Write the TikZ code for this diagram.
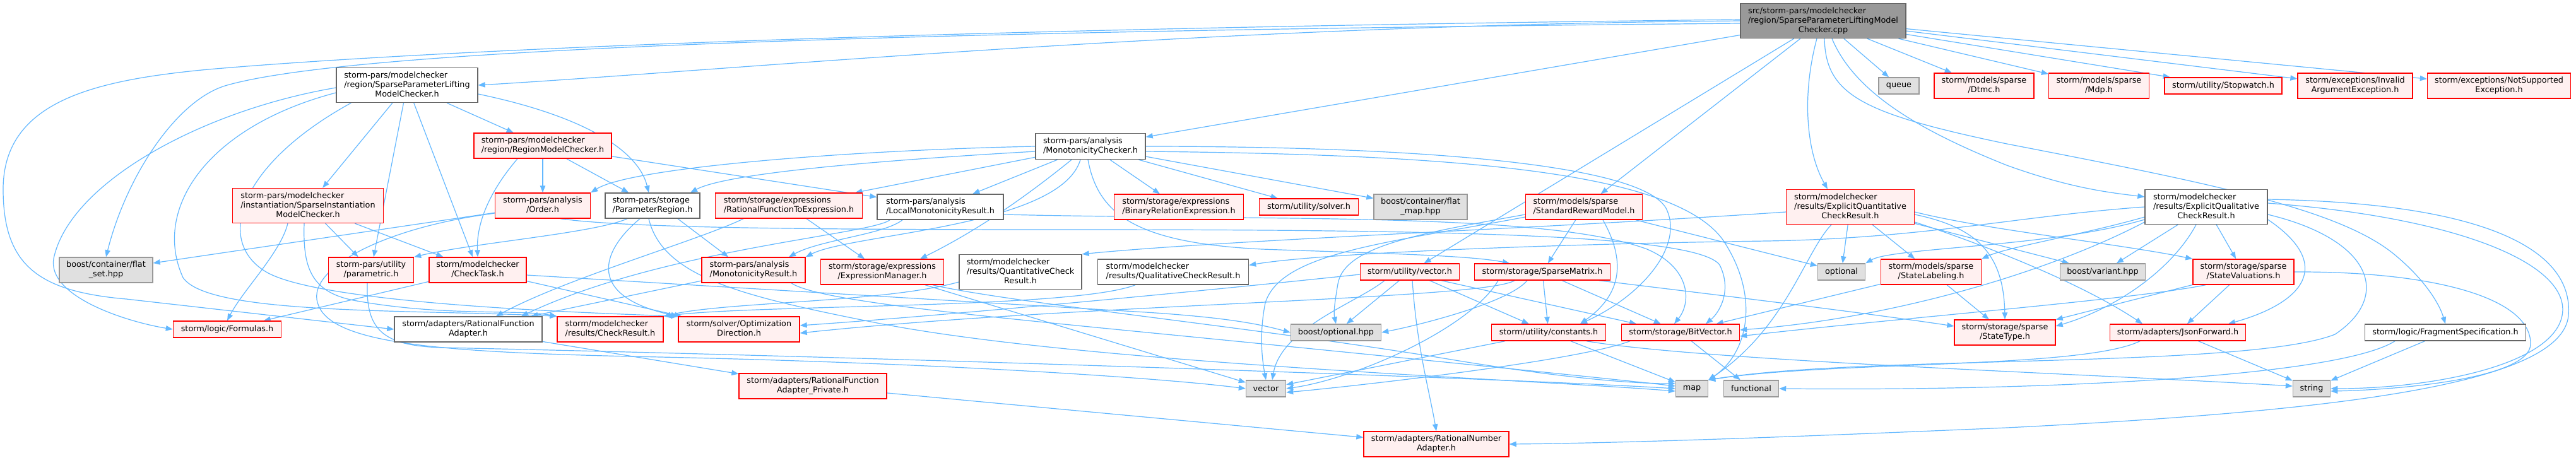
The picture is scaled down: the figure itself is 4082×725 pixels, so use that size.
\documentclass[tikz,border=0pt]{standalone}
\usepackage{fontspec}
\setmainfont{DejaVu Sans}
\usetikzlibrary{arrows.meta}
\definecolor{edgeblue}{HTML}{63B8FF}
\definecolor{nodered}{HTML}{FF0000}
\definecolor{fillred}{HTML}{FFF0F0}
\definecolor{fillgray}{HTML}{E0E0E0}
\definecolor{bordergray}{HTML}{999999}
\definecolor{darkborder}{HTML}{666666}
\definecolor{mainfill}{HTML}{999999}
\newcommand\nlab[1]{\begin{tabular}{@{}l@{}}#1\end{tabular}}
\newcommand\nlast[1]{\multicolumn{1}{@{}c@{}}{#1}}
\pgfdeclarelayer{bg}
\pgfdeclarelayer{edges}
\pgfsetlayers{bg,edges,main}
\tikzset{
  nb/.style={draw, rectangle, inner sep=0pt, line width=0.7pt, font=\fontsize{6.4}{7.5}\selectfont},
  rb/.style={nb, draw=nodered, fill=fillred},
  gb/.style={nb, draw=bordergray, fill=fillgray},
  wb/.style={nb, draw=darkborder, fill=white},
  mb/.style={nb, draw=darkborder, fill=mainfill},
  sz/.style 2 args={minimum width=#1*0.5pt, minimum height=#2*0.5pt},
  edge/.style={draw=edgeblue, line width=0.6pt, -{Triangle[length=5.5pt,width=4.2pt]}},
}
\begin{document}
\begin{tikzpicture}[x=0.5pt,y=-0.5pt]
\begin{pgfonlayer}{bg}
\fill[white] (0,0) rectangle (4082,725);
\end{pgfonlayer}
\useasboundingbox (0,0) rectangle (4082,725);

% row 0
\node[mb, sz={262}{55}] (cpp) at (2889,33) {\nlab{src/storm-pars/modelchecker\\/region/SparseParameterLiftingModel\\\nlast{Checker.cpp}}};
% row 1
\node[wb, sz={224}{55}] (splmc) at (645,135) {\nlab{storm-pars/modelchecker\\/region/SparseParameterLifting\\\nlast{ModelChecker.h}}};
\node[gb, sz={64}{26}] (queue) at (3009,136) {queue};
\node[rb, sz={158}{40}] (dtmc) at (3144,136) {\nlab{storm/models/sparse\\\nlast{/Dtmc.h}}};
\node[rb, sz={159}{40}] (mdp) at (3326,136) {\nlab{storm/models/sparse\\\nlast{/Mdp.h}}};
\node[rb, sz={186}{26}] (stopwatch) at (3523,136) {storm/utility/Stopwatch.h};
\node[rb, sz={182}{40}] (invarg) at (3732,136) {\nlab{storm/exceptions/Invalid\\\nlast{ArgumentException.h}}};
\node[rb, sz={227}{40}] (notsup) at (3960,136) {\nlab{storm/exceptions/NotSupported\\\nlast{Exception.h}}};
% row 2
\node[wb, sz={174}{41}] (monochk) at (1728,232) {\nlab{storm-pars/analysis\\\nlast{/MonotonicityChecker.h}}};
\node[rb, sz={218}{40}] (rmc) at (860,231) {\nlab{storm-pars/modelchecker\\\nlast{/region/RegionModelChecker.h}}};
% row 3
\node[rb, sz={239}{55}] (sinst) at (488,326) {\nlab{storm-pars/modelchecker\\/instantiation/SparseInstantiation\\\nlast{ModelChecker.h}}};
\node[rb, sz={151}{40}] (order) at (860,326) {\nlab{storm-pars/analysis\\\nlast{/Order.h}}};
\node[wb, sz={150}{40}] (preg) at (1034,326) {\nlab{storm-pars/storage\\\nlast{/ParameterRegion.h}}};
\node[rb, sz={233}{40}] (rfte) at (1250,326) {\nlab{storm/storage/expressions\\\nlast{/RationalFunctionToExpression.h}}};
\node[wb, sz={200}{40}] (lmr) at (1490,328) {\nlab{storm-pars/analysis\\\nlast{/LocalMonotonicityResult.h}}};
\node[rb, sz={205}{40}] (bre) at (1868,328) {\nlab{storm/storage/expressions\\\nlast{/BinaryRelationExpression.h}}};
\node[rb, sz={157}{26}] (solver) at (2074,328) {storm/utility/solver.h};
\node[gb, sz={148}{40}] (flatmap) at (2251,328) {\nlab{boost/container/flat\\\nlast{\_map.hpp}}};
\node[rb, sz={185}{40}] (srm) at (2510,328) {\nlab{storm/models/sparse\\\nlast{/StandardRewardModel.h}}};
\node[rb, sz={203}{55}] (eqt) at (2932,328) {\nlab{storm/modelchecker\\/results/ExplicitQuantitative\\\nlast{CheckResult.h}}};
\node[wb, sz={194}{55}] (eql) at (3496,328) {\nlab{storm/modelchecker\\/results/ExplicitQualitative\\\nlast{CheckResult.h}}};
% row 4
\node[gb, sz={148}{40}] (flatset) at (168,428) {\nlab{boost/container/flat\\\nlast{\_set.hpp}}};
\node[rb, sz={135}{40}] (param) at (588,428) {\nlab{storm-pars/utility\\\nlast{/parametric.h}}};
\node[rb, sz={154}{40}] (ctask) at (757,428) {\nlab{storm/modelchecker\\\nlast{/CheckTask.h}}};
\node[rb, sz={164}{40}] (monres) at (1194,428) {\nlab{storm-pars/analysis\\\nlast{/MonotonicityResult.h}}};
\node[rb, sz={195}{40}] (exprman) at (1398,431) {\nlab{storm/storage/expressions\\\nlast{/ExpressionManager.h}}};
\node[wb, sz={194}{55}] (qcr) at (1617,431) {\nlab{storm/modelchecker\\/results/QuantitativeCheck\\\nlast{Result.h}}};
\node[wb, sz={239}{40}] (qlcr) at (1859,431) {\nlab{storm/modelchecker\\\nlast{/results/QualitativeCheckResult.h}}};
\node[rb, sz={157}{26}] (uvec) at (2234,431) {storm/utility/vector.h};
\node[rb, sz={215}{26}] (smat) at (2444,431) {storm/storage/SparseMatrix.h};
\node[gb, sz={75}{26}] (optional) at (2918,431) {optional};
\node[rb, sz={159}{40}] (slab) at (3060,431) {\nlab{storm/models/sparse\\\nlast{/StateLabeling.h}}};
\node[gb, sz={135}{26}] (variant) at (3332,431) {boost/variant.hpp};
\node[rb, sz={160}{40}] (sval) at (3555,431) {\nlab{storm/storage/sparse\\\nlast{/StateValuations.h}}};
% row 5
\node[rb, sz={171}{26}] (formulas) at (360,522) {storm/logic/Formulas.h};
\node[wb, sz={234}{40}] (rfa) at (742,522) {\nlab{storm/adapters/RationalFunction\\\nlast{Adapter.h}}};
\node[rb, sz={168}{40}] (cres) at (967,522) {\nlab{storm/modelchecker\\\nlast{/results/CheckResult.h}}};
\node[rb, sz={192}{40}] (optdir) at (1171,522) {\nlab{storm/solver/Optimization\\\nlast{Direction.h}}};
\node[gb, sz={143}{26}] (boptional) at (2117,527) {boost/optional.hpp};
\node[rb, sz={181}{26}] (consts) at (2454,527) {storm/utility/constants.h};
\node[rb, sz={187}{26}] (bitvec) at (2663,527) {storm/storage/BitVector.h};
\node[rb, sz={160}{40}] (stype) at (3177,527) {\nlab{storm/storage/sparse\\\nlast{/StateType.h}}};
\node[rb, sz={215}{26}] (json) at (3451,527) {storm/adapters/JsonForward.h};
\node[wb, sz={255}{26}] (frag) at (3875,527) {storm/logic/FragmentSpecification.h};
% row 6
\node[rb, sz={234}{40}] (rfap) at (1288,612) {\nlab{storm/adapters/RationalFunction\\\nlast{Adapter\_Private.h}}};
\node[gb, sz={63}{26}] (vector) at (2006,616) {vector};
\node[gb, sz={51}{26}] (map) at (2681,616) {map};
\node[gb, sz={87}{26}] (functional) at (2775,616) {functional};
\node[gb, sz={59}{26}] (string) at (3663,616) {string};
% row 7
\node[rb, sz={230}{40}] (rna) at (2276,704) {\nlab{storm/adapters/RationalNumber\\\nlast{Adapter.h}}};

\begin{pgfonlayer}{edges}
% cpp
\draw[edge] (cpp.west) .. controls (1900,40) and (1150,112) .. (splmc.east);
\draw[edge] ([yshift=-2pt]cpp.west) .. controls (1100,52) and (520,90) .. (360,135) .. controls (280,157) and (200,280) .. (flatset.north);
\draw[edge] ([yshift=1pt]cpp.west) .. controls (1500,45) and (700,78) .. (330,110) .. controls (150,127) and (5,160) .. (5,300) .. controls (5,420) and (60,462) .. (200,474) -- (rfa.west);
\draw[edge] (cpp) -- (monochk);
\draw[edge] (cpp) -- (queue);
\draw[edge] (cpp) -- (dtmc);
\draw[edge] (cpp) -- (mdp);
\draw[edge] (cpp) -- (stopwatch);
\draw[edge] (cpp) -- (invarg);
\draw[edge] (cpp) -- (notsup);
\draw[edge] (cpp) -- (srm);
\draw[edge] (cpp) -- (uvec);
\draw[edge] ([xshift=-5pt]cpp.south) .. controls (2855,150) and (2862,240) .. ([xshift=-18pt]eqt.north);
\draw[edge] ([xshift=1pt]cpp.south) .. controls (2893,150) and (2950,180) .. (3180,228) .. controls (3500,290) and (3700,330) .. (3790,400) .. controls (3840,440) and (3865,480) .. (frag.north);
\draw[edge] ([xshift=7pt]cpp.south) .. controls (2940,150) and (3050,210) .. (3180,262) .. controls (3280,298) and (3340,305) .. ([yshift=8pt]eql.west);
% splmc
\draw[edge] (splmc) -- (sinst);
\draw[edge] (splmc) -- (rmc);
\draw[edge] ([yshift=-7pt]splmc.east) .. controls (930,185) and (1012,240) .. ([xshift=-3pt]preg.north);
\draw[edge] (splmc) -- (param);
\draw[edge] (splmc) -- (ctask);
\draw[edge] ([yshift=-2pt]splmc.west) .. controls (320,175) and (110,290) .. (85,410) .. controls (75,470) and (200,510) .. (formulas.west);
\draw[edge] ([yshift=-6pt]splmc.west) .. controls (330,200) and (240,330) .. (290,440) .. controls (330,500) and (650,490) .. (cres.north west);
\draw[edge] ([xshift=12pt]splmc.south west) .. controls (380,260) and (340,380) .. (420,430) .. controls (500,480) and (900,495) .. (optdir.north west);
% rmc
\draw[edge] (rmc) -- (order);
\draw[edge] (rmc) -- (preg);
\draw[edge] ([xshift=-20pt]rmc.south) .. controls (770,310) and (755,360) .. (ctask.north);
\draw[edge] (rmc) -- (lmr);
% monotonicity checker
\draw[edge] (monochk.west) .. controls (1350,238) and (1000,265) .. (order.north east);
\draw[edge] ([yshift=-4pt]monochk.west) .. controls (1380,255) and (1150,275) .. ([xshift=30pt]preg.north);
\draw[edge] (monochk) -- (rfte);
\draw[edge] (monochk) -- (lmr);
\draw[edge] (monochk) -- (bre);
\draw[edge] (monochk) -- (solver);
\draw[edge] (monochk) -- (flatmap);
\draw[edge] ([xshift=-15pt]monochk.south) .. controls (1640,300) and (1560,360) .. ([xshift=30pt]exprman.north);
\draw[edge] ([xshift=-8pt]monochk.south) .. controls (1680,360) and (1350,370) .. (monres.north east);
\draw[edge] ([xshift=-2pt]monochk.south) .. controls (1740,340) and (1800,385) .. (2000,395) .. controls (2200,402) and (2330,405) .. ([xshift=-26pt]smat.north);
\draw[edge] (monochk.east) .. controls (2250,232) and (2600,260) .. (2640,330) .. controls (2670,390) and (2600,470) .. ([xshift=25pt]consts.north);
\draw[edge] ([yshift=-4pt]monochk.east) .. controls (2300,245) and (2650,270) .. (2730,380) .. controls (2790,470) and (2770,560) .. (map.north east);
% sparse instantiation
\draw[edge] ([xshift=-16pt]sinst.south) .. controls (445,400) and (385,460) .. (formulas.north);
\draw[edge] (sinst) -- (param);
\draw[edge] (sinst) -- (ctask);
\draw[edge] ([xshift=-3pt]sinst.south) .. controls (480,420) and (490,462) .. (560,476) .. controls (700,502) and (820,490) .. (cres.north west);
% parameter region
\draw[edge] ([xshift=-20pt]preg.south) .. controls (940,370) and (750,385) .. (param.north east);
\draw[edge] ([xshift=-10pt]preg.south) .. controls (950,400) and (930,470) .. (optdir.north west);
\draw[edge] ([xshift=-3pt]preg.south) .. controls (1050,440) and (1180,470) .. (1380,510) .. controls (1700,575) and (2400,600) .. ([yshift=-2pt]map.west);
\draw[edge] ([xshift=20pt]preg.south) -- ([xshift=-20pt]monres.north);
% order
\draw[edge] (order) -- (flatset);
\draw[edge] ([yshift=-6pt]order.west) .. controls (600,362) and (480,430) .. (505,485) .. controls (530,545) and (700,558) .. (1000,565) .. controls (1500,575) and (1850,600) .. (vector.west);
\draw[edge] ([xshift=14pt]order.south) .. controls (1000,362) and (1300,364) .. (1700,364) .. controls (2300,364) and (2690,372) .. (2725,420) .. controls (2745,460) and (2725,495) .. ([xshift=20pt]bitvec.north);
% monotonicity result
\draw[edge] (monres) -- (rfa);
\draw[edge] ([xshift=30pt]monres.south) .. controls (1300,480) and (1600,505) .. (2000,545) .. controls (2300,575) and (2550,600) .. ([yshift=2pt]map.west);
% local monotonicity result
\draw[edge] ([xshift=-30pt]lmr.south) .. controls (1400,372) and (1300,380) .. ([xshift=28pt]monres.north);
\draw[edge] ([yshift=-6pt]lmr.east) .. controls (2000,350) and (2450,335) .. (2610,395) .. controls (2680,425) and (2680,480) .. ([xshift=-5pt]bitvec.north);
\draw[edge] ([xshift=-40pt]lmr.south) .. controls (1380,372) and (1050,395) .. ([xshift=42pt]rfa.north);
% rational function to expression
\draw[edge] ([xshift=-36pt]rfte.south) .. controls (1110,380) and (900,440) .. ([xshift=22pt]rfa.north);
\draw[edge] ([xshift=14pt]rfte.south) -- ([xshift=-14pt]exprman.north);
% expression manager
\draw[edge] (exprman) -- (vector);
\draw[edge] ([xshift=40pt]exprman.south) .. controls (1600,480) and (2000,520) .. (2300,570) .. controls (2500,603) and (2600,608) .. ([yshift=4pt]map.west);
% check results
\draw[edge] ([yshift=-8pt]qcr.west) .. controls (1400,480) and (1150,478) .. (cres.north east);
\draw[edge] ([xshift=-30pt]qlcr.south) .. controls (1700,490) and (1200,482) .. (cres.north east);
% utility vector
\draw[edge] ([yshift=-2pt]uvec.west) .. controls (1900,462) and (1500,500) .. ([yshift=3pt]optdir.east);
\draw[edge] (uvec) -- (boptional);
\draw[edge] ([xshift=2pt]uvec.south) .. controls (2245,550) and (2265,620) .. (rna.north);
\draw[edge] ([xshift=-20pt]uvec.south) .. controls (2150,480) and (2030,520) .. ([xshift=5pt]vector.north);
\draw[edge] (uvec) -- (consts);
\draw[edge] ([xshift=25pt]uvec.south) -- ([xshift=-35pt]bitvec.north);
% sparse matrix
\draw[edge] ([xshift=-22pt]smat.south) .. controls (2350,475) and (1700,482) .. ([yshift=-3pt]optdir.east);
\draw[edge] ([xshift=-12pt]smat.south) .. controls (2390,480) and (2250,515) .. (boptional.east);
\draw[edge] (smat) -- (consts);
\draw[edge] (smat) -- (bitvec);
\draw[edge] ([xshift=45pt]smat.south) .. controls (2700,465) and (2950,495) .. ([yshift=5pt]stype.west);
\draw[edge] ([xshift=-35pt]smat.south) .. controls (2330,520) and (2150,600) .. (vector.east);
% standard reward model
\draw[edge] (srm) -- (smat);
\draw[edge] ([xshift=15pt]srm.south) .. controls (2580,420) and (2565,470) .. ([xshift=25pt]consts.north);
\draw[edge] (srm) -- (optional);
\draw[edge] ([yshift=-6pt]srm.west) .. controls (2250,370) and (2130,390) .. (2120,450) .. controls (2115,480) and (2113,495) .. (boptional.north);
\draw[edge] ([yshift=-8pt]srm.west) .. controls (2200,385) and (2030,400) .. (2005,480) .. controls (1995,530) and (2000,570) .. (vector.north);
% explicit quantitative
\draw[edge] ([yshift=-4pt]eqt.west) .. controls (2450,362) and (1950,380) .. (qcr.north east);
\draw[edge] ([xshift=-15pt]eqt.south) .. controls (2860,400) and (2830,520) .. (map.north east);
\draw[edge] (eqt) -- (optional);
\draw[edge] (eqt) -- (slab);
\draw[edge] ([yshift=-6pt]eqt.east) .. controls (3130,360) and (3175,400) .. (stype.north);
\draw[edge] ([yshift=-4pt]eqt.east) .. controls (3150,365) and (3350,385) .. (sval.north west);
\draw[edge] (eqt) -- (variant);
\draw[edge] ([yshift=-12pt]eqt.east) .. controls (3150,390) and (3300,450) .. ([xshift=-28pt]json.north);
% explicit qualitative
\draw[edge] (eql.west) .. controls (3200,342) and (3050,378) .. (2800,382) .. controls (2500,386) and (2100,400) .. ([yshift=-5pt]qlcr.north east);
\draw[edge] (eql) -- (variant);
\draw[edge] (eql) -- (sval);
\draw[edge] ([xshift=-8pt]eql.south) .. controls (3440,430) and (3350,490) .. ([yshift=5pt]stype.east);
\draw[edge] ([yshift=-10pt]eql.east) .. controls (3700,420) and (3650,480) .. ([xshift=40pt]json.north);
\draw[edge] ([yshift=3pt]eql.east) .. controls (3900,345) and (4075,420) .. (4060,500) .. controls (4045,580) and (3850,616) .. (string.east);
\draw[edge] ([yshift=6pt]eql.east) .. controls (3950,322) and (4078,400) .. (4070,500) .. controls (4060,610) and (3700,652) .. (3180,678) .. controls (2900,690) and (2600,702) .. (rna.east);
\draw[edge] ([yshift=-6pt]eql.east) .. controls (3760,380) and (3790,470) .. (3700,530) .. controls (3560,585) and (2950,562) .. (map.north east);
\draw[edge] ([yshift=-8pt]eql.west) .. controls (3300,372) and (3180,392) .. (slab.north east);
\draw[edge] ([yshift=-12pt]eql.west) .. controls (3250,430) and (3000,505) .. ([yshift=2pt]bitvec.east);
\draw[edge] ([yshift=-10pt]eql.west) .. controls (3250,392) and (3000,392) .. (optional.north east);
% state labeling / valuations
\draw[edge] (slab) -- (bitvec);
\draw[edge] (slab) -- (stype);
\draw[edge] (sval) -- (stype);
\draw[edge] (sval) -- (json);
\draw[edge] (sval.east) .. controls (3850,430) and (4010,470) .. (4010,545) .. controls (4010,600) and (3800,618) .. ([yshift=-2pt]string.east);
\draw[edge] ([xshift=-30pt]sval.south) .. controls (3380,475) and (3000,505) .. ([yshift=-3pt]bitvec.east);
% json / fragment
\draw[edge] (json) -- (string);
\draw[edge] ([xshift=-30pt]json.south) .. controls (3300,585) and (2900,572) .. (map.north east);
\draw[edge] (frag) -- (string);
\draw[edge] ([xshift=-40pt]frag.south) .. controls (3700,600) and (3200,620) .. (functional.east);
% constants / bitvector
\draw[edge] (consts) -- (map);
\draw[edge] (consts) -- (vector);
\draw[edge] ([xshift=30pt]consts.south) .. controls (2700,572) and (3300,592) .. ([yshift=2pt]string.west);
\draw[edge] (bitvec) -- (functional);
\draw[edge] ([xshift=-40pt]bitvec.south) .. controls (2500,572) and (2150,612) .. ([yshift=-3pt]vector.east);
% adapters
\draw[edge] (rfa) -- (rfap);
\draw[edge] (rfap) -- (rna);
% check task
\draw[edge] (ctask) -- (formulas);
\draw[edge] (ctask) -- (optdir);
\draw[edge] ([yshift=-4pt]ctask.east) .. controls (1100,452) and (1600,482) .. (1800,494) .. controls (1950,503) and (2000,515) .. (boptional.west);
% parametric
\draw[edge] ([xshift=-3pt]param.south) .. controls (580,522) and (605,548) .. (700,551) .. controls (1400,566) and (2400,600) .. (map.west);
\end{pgfonlayer}
\end{tikzpicture}
\end{document}
